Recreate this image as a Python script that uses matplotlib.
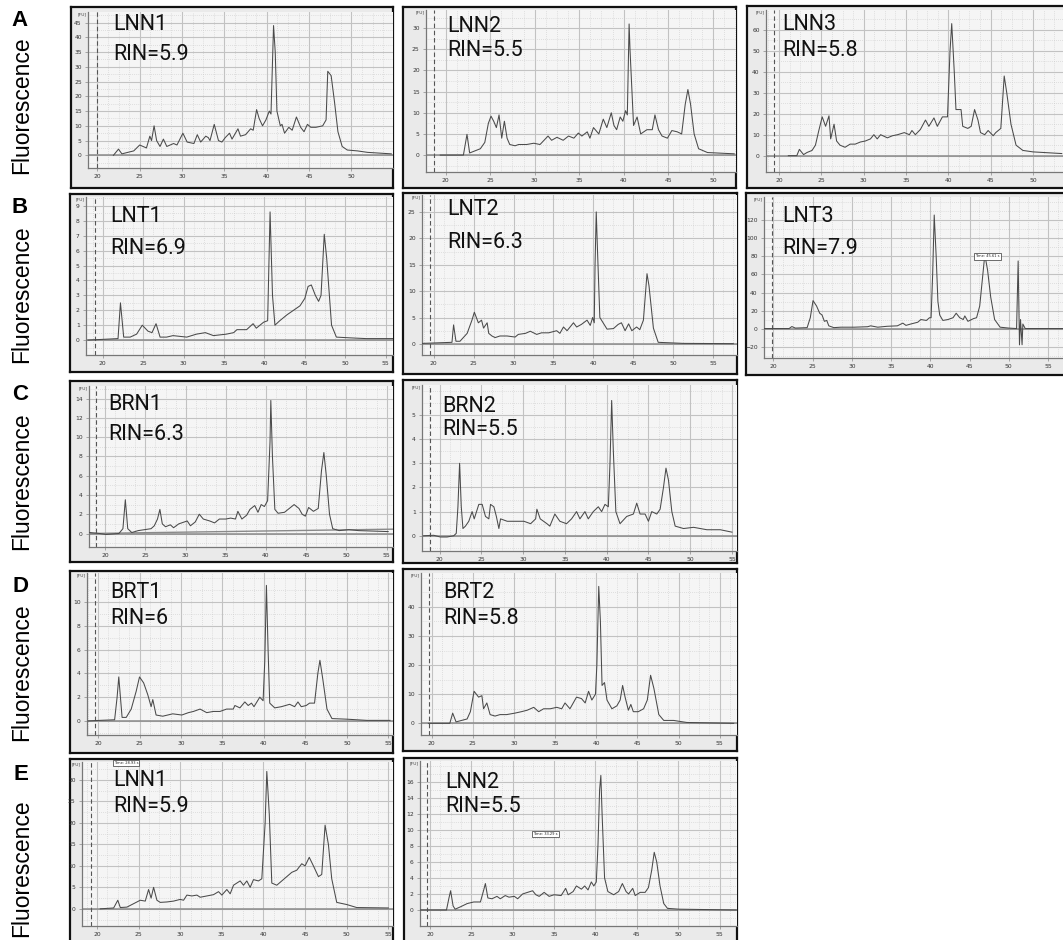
import matplotlib
matplotlib.use("Agg")
import matplotlib.pyplot as plt
from matplotlib.ticker import MultipleLocator, AutoMinorLocator

W, H = 1063, 940

# ---------------- data (time [s], fluorescence [FU]) ----------------
a1_t = [21.9, 22.5, 22.9, 24.3, 25.0, 25.8, 26.2, 26.4, 26.7, 27.0, 27.4, 27.8, 28.2, 29.0, 29.4, 30.1, 30.6, 31.4, 31.8, 32.2, 32.8, 33.1, 33.3, 33.8, 34.3, 34.7, 35.1, 35.6, 35.9, 36.6, 36.9, 37.5, 38.1, 38.4, 38.8, 39.1, 39.5, 39.9, 40.3, 40.5, 40.8, 41.0, 41.2, 41.6, 41.8, 42.1, 42.6, 43.0, 43.5, 44.0, 44.4, 44.8, 45.2, 45.8, 46.6, 47.0, 47.2, 47.6, 48.0, 48.4, 48.9, 49.5, 50.7, 51.9, 54.7]
a1_fu = [0, 2.1, 0.5, 1.5, 3.5, 2.5, 6.5, 5, 10, 5, 3, 5.5, 3, 4, 3.5, 7.5, 4.5, 4, 7, 4.5, 6.5, 6, 5, 10.5, 5, 4.5, 6, 7.5, 5.5, 9, 6.5, 7, 9, 8.5, 15.5, 12.5, 10, 12, 15, 14, 44, 35, 15, 10, 10.5, 7.5, 9.5, 8.5, 13, 9.5, 8, 10.5, 9.5, 9.5, 10, 12, 28.5, 27, 18, 8, 3, 1.8, 1.5, 1.0, 0.5]

a2_t = [19.4, 22.0, 22.4, 22.7, 23.9, 24.4, 24.8, 25.1, 25.4, 25.7, 26.0, 26.3, 26.6, 26.9, 27.2, 27.8, 28.2, 29.1, 29.9, 30.6, 31.5, 31.9, 32.5, 33.2, 33.8, 34.4, 34.9, 35.3, 35.9, 36.2, 36.6, 37.2, 37.7, 38.1, 38.6, 38.9, 39.2, 39.6, 39.9, 40.2, 40.4, 40.6, 40.7, 41.1, 41.5, 41.9, 42.6, 43.2, 43.5, 43.9, 44.3, 44.9, 45.4, 46.0, 46.5, 46.9, 47.2, 47.5, 47.9, 48.4, 49.4, 52.4]
a2_fu = [0, 0, 4.9, 0.5, 1.5, 3, 7.5, 9.2, 8, 6.5, 9.5, 4, 8, 4, 2.5, 2.2, 2.5, 2.5, 2.8, 2.5, 4.5, 3.5, 4.2, 3.5, 4.5, 4, 5.2, 4.5, 5.5, 4, 6.5, 5, 8.5, 6.5, 10, 7, 6, 9, 8, 10.5, 9.5, 31, 25, 7, 9, 5, 6, 6, 9.5, 6, 4.5, 4, 5.8, 5.5, 5, 12, 15.5, 12, 5, 1.5, 0.6, 0.3]

a3_t = [21.1, 22.1, 22.4, 22.9, 23.3, 23.9, 24.3, 24.7, 25.1, 25.5, 25.9, 26.1, 26.5, 26.8, 27.2, 27.8, 28.4, 29.0, 29.6, 30.2, 30.8, 31.2, 31.6, 32.0, 32.8, 33.4, 34.0, 34.8, 35.4, 35.7, 36.1, 36.7, 37.3, 37.7, 38.3, 38.7, 39.3, 39.9, 40.2, 40.4, 40.7, 40.9, 41.5, 41.7, 42.3, 42.7, 43.1, 43.5, 43.8, 44.3, 44.7, 45.3, 45.6, 46.2, 46.6, 46.9, 47.4, 48.0, 48.8, 50.0, 53.4]
a3_fu = [0, 0, 3, 0.5, 1.5, 2.5, 5, 12, 18.5, 14, 19, 8, 15, 7, 5, 4, 5.5, 5.5, 6.5, 7, 8, 10, 8, 10, 8.5, 9.5, 10, 11, 10, 12, 10, 12.5, 17, 14, 18, 14, 18.5, 18.5, 50, 63, 40, 22, 22, 14, 13, 14, 22, 17, 11, 10, 12, 9.5, 11, 13, 38, 30, 15, 5, 2.5, 1.8, 1.0]

b1_t = [18.2, 21.9, 22.2, 22.6, 23.4, 24.2, 24.9, 25.6, 26.1, 26.6, 27.1, 27.9, 28.7, 30.4, 31.6, 32.7, 33.7, 35.3, 36.2, 36.6, 37.8, 38.6, 39.0, 39.9, 40.4, 40.7, 41.0, 41.3, 41.9, 42.8, 43.6, 44.4, 45.0, 45.4, 45.8, 46.3, 46.7, 47.0, 47.4, 47.7, 48.3, 48.9, 50.6, 52.6, 55.9]
b1_fu = [0, 0.1, 2.5, 0.2, 0.2, 0.4, 1.0, 0.6, 0.5, 1.1, 0.2, 0.2, 0.3, 0.2, 0.4, 0.5, 0.3, 0.4, 0.5, 0.7, 0.7, 1.1, 0.8, 1.2, 1.3, 8.6, 3, 1.0, 1.3, 1.7, 2.0, 2.3, 2.8, 3.6, 3.7, 3.0, 2.6, 3.0, 7.1, 5.5, 1.0, 0.2, 0.15, 0.1, 0.1]

b2_t = [18.6, 22.3, 22.5, 22.8, 23.3, 24.2, 24.8, 25.1, 25.6, 26.0, 26.25, 26.7, 26.9, 27.3, 27.7, 28.3, 29.2, 30.2, 30.6, 31.5, 32.1, 32.9, 33.5, 34.4, 35.4, 35.8, 36.25, 36.7, 37.5, 37.9, 38.5, 39.2, 39.6, 39.9, 40.1, 40.2, 40.35, 40.5, 40.8, 41.7, 42.5, 43.1, 43.5, 43.96, 44.4, 44.8, 45.4, 45.8, 46.25, 46.7, 46.95, 47.5, 48.1, 51.25, 57.5]
b2_fu = [0.1, 0.3, 3.6, 0.5, 0.5, 2, 4.5, 6, 4, 4.5, 3, 4, 2, 1.5, 1.2, 1.5, 1.5, 1.3, 1.8, 2, 2.4, 1.8, 2.1, 2.1, 2.5, 2.0, 3.2, 2.5, 4, 3.2, 3.7, 4.5, 3.5, 5, 4, 15, 25, 18, 5, 2.8, 2.9, 3.7, 4, 2.5, 3.8, 2.5, 3.2, 2.7, 4.5, 13.3, 11, 3, 0.3, 0.1, 0.05]

b3_t = [18.8, 22.0, 22.35, 22.8, 24.3, 24.7, 25.05, 25.5, 25.9, 26.2, 26.5, 26.8, 27.06, 27.7, 28.6, 30.3, 32.0, 32.4, 33.3, 34.5, 35.8, 36.5, 36.9, 37.5, 38.4, 38.8, 39.5, 39.9, 40.1, 40.3, 40.5, 40.75, 40.97, 41.2, 41.6, 42.25, 42.9, 43.3, 43.75, 44.2, 44.4, 44.8, 45.5, 45.9, 46.3, 46.7, 46.95, 47.3, 47.7, 48.2, 48.9, 50.0, 51.0, 51.2, 51.37, 51.5, 51.7, 51.8, 52.1, 57.2]
b3_fu = [0, 0, 2.2, 0.5, 1, 12, 31, 25, 17, 15, 8, 9, 3, 1, 1.5, 1.5, 2, 3, 1.5, 2.5, 3, 6, 3.5, 5, 7, 10, 9, 12, 12, 60, 126, 80, 30, 15, 9, 10, 12, 17, 12, 10, 14, 8, 11, 12, 25, 60, 82, 65, 35, 10, 1.5, 0.5, 0, 75, -18, 10, -18, 5, 0, 0]

c1_t = [18.06, 19.3, 20.1, 21.7, 22.2, 22.5, 22.8, 23.3, 24.1, 24.9, 25.7, 26.1, 26.5, 26.8, 27.1, 27.5, 28.1, 28.5, 29.15, 30.2, 30.6, 31.2, 31.7, 32.2, 33.0, 33.6, 34.2, 35.0, 35.6, 36.2, 36.5, 37.0, 37.6, 38.0, 38.6, 39.0, 39.4, 39.8, 40.2, 40.5, 40.6, 40.8, 41.1, 41.5, 42.3, 42.9, 43.5, 44.1, 44.5, 44.9, 45.3, 45.9, 46.5, 46.9, 47.2, 47.5, 47.9, 48.3, 49.1, 50.3, 51.5, 55.2]
c1_fu = [0.1, 0, -0.1, 0, 0.5, 3.5, 0.5, 0.1, 0.3, 0.4, 0.5, 0.8, 1.5, 2.5, 1.0, 0.7, 0.9, 0.6, 1.0, 1.3, 0.8, 1.2, 2.0, 1.5, 1.3, 1.1, 1.5, 1.5, 1.6, 1.5, 2.3, 1.5, 1.9, 2.5, 2.9, 2.2, 3.0, 2.8, 3.4, 9.5, 13.8, 8, 2.5, 2.1, 2.2, 2.6, 3.0, 2.6, 2.0, 1.8, 2.7, 2.3, 2.6, 6.5, 8.4, 6, 2.0, 0.5, 0.3, 0.4, 0.3, 0.2]
c1_base_t = [18.0, 55.8]
c1_base_fu = [0.0, 0.45]

c2_t = [18.1, 19.3, 20.1, 20.9, 21.7, 22.0, 22.2, 22.4, 22.6, 22.8, 23.1, 23.5, 23.9, 24.15, 24.7, 25.1, 25.5, 25.9, 26.1, 26.5, 26.8, 27.1, 27.3, 28.1, 28.9, 30.1, 30.9, 31.5, 31.65, 32.05, 32.85, 33.2, 33.8, 34.4, 35.2, 35.8, 36.4, 36.8, 37.4, 37.8, 38.4, 39.0, 39.4, 39.8, 40.2, 40.4, 40.6, 40.8, 41.1, 41.6, 42.4, 43.2, 43.6, 44.0, 44.6, 45.0, 45.4, 46.0, 46.4, 46.8, 47.1, 47.4, 47.8, 48.2, 49.2, 50.4, 52.0, 53.6, 55.0]
c2_fu = [0, 0.02, -0.05, -0.05, 0, 0.1, 1.2, 3.0, 1.2, 0.3, 0.4, 0.6, 1.0, 0.7, 1.3, 1.3, 0.8, 0.7, 1.3, 1.2, 0.8, 0.3, 0.7, 0.6, 0.6, 0.6, 0.5, 0.7, 1.1, 0.7, 0.5, 0.4, 0.9, 0.6, 0.5, 0.7, 1.0, 0.7, 1.0, 0.7, 1.0, 1.2, 1.0, 1.3, 1.2, 3, 5.6, 3.5, 1.0, 0.5, 0.8, 0.9, 1.35, 0.9, 0.9, 0.6, 1.0, 0.9, 1.1, 2.0, 2.8, 2.3, 1.0, 0.4, 0.3, 0.35, 0.25, 0.25, 0.15]

d1_t = [18.8, 20.2, 22.0, 22.3, 22.5, 22.7, 22.9, 23.4, 24.0, 24.6, 25.0, 25.5, 26.0, 26.4, 26.6, 27.0, 27.8, 29.0, 30.1, 30.9, 31.5, 32.3, 33.1, 33.9, 34.7, 35.5, 36.3, 36.5, 37.1, 37.7, 38.1, 38.5, 38.8, 39.5, 39.9, 40.1, 40.3, 40.5, 40.7, 41.3, 42.1, 43.1, 43.7, 44.1, 44.5, 45.1, 45.5, 46.1, 46.5, 46.75, 47.1, 47.6, 48.2, 50.0, 52.4, 55.2]
d1_fu = [0, 0.05, 0.1, 2, 3.7, 2, 0.3, 0.3, 1.0, 2.5, 3.7, 3.2, 2.2, 1.2, 1.8, 0.5, 0.4, 0.6, 0.5, 0.7, 0.8, 1.0, 0.7, 0.8, 0.8, 1.0, 1.0, 1.3, 1.1, 1.6, 1.3, 1.5, 1.2, 2.0, 1.7, 5, 11.4, 6, 1.5, 1.1, 1.2, 1.4, 1.2, 1.6, 1.2, 1.3, 1.5, 1.5, 4.0, 5.1, 3.5, 1.0, 0.2, 0.15, 0.05, 0.05]

d2_t = [19.6, 22.2, 22.55, 22.96, 24.3, 24.7, 25.15, 25.7, 26.1, 26.3, 26.7, 27.1, 27.7, 28.3, 29.1, 30.1, 30.9, 31.6, 32.4, 33.0, 33.6, 34.4, 35.2, 35.8, 36.2, 36.8, 37.6, 38.2, 38.65, 39.06, 39.46, 39.9, 40.07, 40.3, 40.5, 40.7, 41.0, 41.3, 41.9, 42.5, 42.9, 43.2, 43.5, 43.9, 44.2, 44.5, 45.1, 45.75, 46.2, 46.6, 47.0, 47.6, 48.2, 49.4, 51.0, 56.7]
d2_fu = [0, 0, 3.5, 0.5, 1.5, 4, 11, 9, 9.5, 5, 7, 3, 2.5, 3, 3, 3.5, 4, 4.5, 5.5, 4, 5, 5, 5.5, 5, 7, 5, 9, 8.5, 7, 11, 8, 10, 20, 47, 35, 13, 14, 8, 5, 6, 8, 13, 9, 4.5, 6.5, 4, 4, 5, 8, 16.5, 12, 3, 1, 1.0, 0.3, 0]

e1_t = [20.4, 22.0, 22.5, 22.8, 23.6, 24.4, 25.2, 25.8, 26.2, 26.5, 26.8, 27.2, 27.6, 28.4, 29.2, 30.0, 30.4, 30.8, 31.4, 32.0, 32.4, 33.2, 34.0, 34.6, 35.0, 35.6, 36.0, 36.4, 37.2, 37.6, 38.0, 38.4, 38.8, 39.4, 39.8, 40.2, 40.4, 40.7, 41.0, 41.6, 42.2, 42.8, 43.4, 44.0, 44.6, 45.0, 45.5, 46.0, 46.6, 47.0, 47.4, 47.8, 48.2, 48.8, 50.0, 51.2, 55.0]
e1_fu = [0, 0.2, 2.0, 0.3, 0.4, 1.2, 2.0, 1.8, 4.5, 2.5, 5, 2, 1.5, 1.6, 1.8, 2.2, 2.0, 3.2, 3.0, 3.2, 2.7, 3.0, 3.3, 4, 3.2, 4.5, 3.5, 5.5, 6.5, 5.5, 6.5, 5, 6.8, 6.5, 7, 20, 32, 22, 6, 5.5, 6.5, 7.5, 8.5, 9, 10.5, 10, 12, 10, 7.5, 8, 19.5, 15, 7, 1.5, 1.0, 0.3, 0.2]

e2_t = [17.2, 20.4, 22.0, 22.3, 22.5, 22.8, 23.05, 23.7, 24.5, 25.3, 26.1, 26.5, 26.7, 27.0, 27.5, 28.1, 28.5, 29.1, 29.55, 30.2, 30.6, 31.2, 31.8, 32.4, 32.8, 33.2, 33.8, 34.4, 35.0, 35.85, 36.4, 36.7, 37.3, 37.7, 38.3, 38.7, 39.1, 39.5, 39.8, 40.1, 40.3, 40.5, 40.65, 40.8, 41.1, 41.5, 42.2, 42.8, 43.25, 43.7, 44.0, 44.5, 44.8, 45.4, 46.0, 46.4, 46.8, 47.1, 47.4, 47.8, 48.25, 48.7, 50.1, 57.0]
e2_fu = [0, 0, 0, 1.5, 2.4, 0.5, 0.1, 0.4, 0.8, 1.0, 1.0, 2.5, 3.3, 1.5, 1.4, 1.7, 1.4, 1.8, 1.6, 1.7, 1.4, 2.0, 2.2, 2.4, 1.9, 1.7, 2.2, 1.7, 1.9, 1.8, 2.7, 1.9, 2.3, 3.0, 2.6, 3.0, 2.5, 3.5, 3.0, 3.5, 8, 15, 16.8, 12, 4, 2.3, 1.9, 2.3, 3.3, 2.3, 2.0, 2.7, 1.8, 2.2, 2.2, 2.8, 5, 7.2, 6, 3, 0.8, 0.2, 0.1, 0]

sample_names = ["LNN1", "LNN2", "LNN3", "LNT1", "LNT2", "LNT3", "BRN1", "BRN2", "BRT1", "BRT2", "LNN1", "LNN2"]
rin_labels = ["RIN=5.9", "RIN=5.5", "RIN=5.8", "RIN=6.9", "RIN=6.3", "RIN=7.9", "RIN=6.3", "RIN=5.5", "RIN=6", "RIN=5.8", "RIN=5.9", "RIN=5.5"]
row_letters = ["A", "B", "C", "D", "E"]
y_axis_label = "Fluorescence"
time_notes = ["Time: 45.61 s", "Time: 28.93 s", "Time: 33.29 s"]

traces = [(a1_t, a1_fu), (a2_t, a2_fu), (a3_t, a3_fu),
          (b1_t, b1_fu), (b2_t, b2_fu), (b3_t, b3_fu),
          (c1_t, c1_fu), (c2_t, c2_fu),
          (d1_t, d1_fu), (d2_t, d2_fu),
          (e1_t, e1_fu), (e2_t, e2_fu)]

# ---------------- layout (pixels) ----------------
layout = [
    dict(outer=(71, 7, 393, 188), inner=(88, 12, 393, 168), xlim=(18.9, 54.9), ylim=(-4.3, 48.6), ystep=5, ymin=0, ymax=45, dash=20.0, txt=(113, 25, 55)),
    dict(outer=(403, 7, 736, 188), inner=(426, 10, 736, 172), xlim=(17.8, 52.6), ylim=(-4.0, 34.3), ystep=5, ymin=0, ymax=30, dash=18.7, txt=(447, 26, 51)),
    dict(outer=(747, 6, 1066, 188), inner=(766, 10, 1066, 172), xlim=(18.46, 53.9), ylim=(-7.8, 69.5), ystep=10, ymin=0, ymax=60, dash=19.4, txt=(782, 24, 50)),
    dict(outer=(70, 194, 393, 372), inner=(86, 197, 393, 355), xlim=(17.94, 55.9), ylim=(-1.0, 9.6), ystep=1, ymin=0, ymax=9, dash=19.05, txt=(110, 217, 249)),
    dict(outer=(403, 193, 737, 374), inner=(422, 195, 737, 355), xlim=(18.55, 57.96), ylim=(-2.1, 28.2), ystep=5, ymin=0, ymax=25, dash=19.5, txt=(447, 210, 242)),
    dict(outer=(746, 193, 1066, 375), inner=(764, 197, 1066, 358), xlim=(18.8, 57.3), ylim=(-32.7, 146), ystep=20, ymin=-20, ymax=120, dash=19.8, txt=(782, 217, 249)),
    dict(outer=(70, 381, 393, 562), inner=(89, 386, 393, 547), xlim=(17.98, 55.8), ylim=(-1.4, 15.3), ystep=2, ymin=0, ymax=14, dash=18.87, txt=(108, 405, 435)),
    dict(outer=(403, 380, 737, 563), inner=(422, 385, 737, 551), xlim=(17.9, 55.6), ylim=(-0.63, 6.24), ystep=1, ymin=0, ymax=5, dash=18.9, txt=(442, 406, 430)),
    dict(outer=(70, 571, 393, 753), inner=(87, 573, 393, 735), xlim=(18.67, 55.56), ylim=(-1.18, 12.44), ystep=2, ymin=0, ymax=10, dash=19.6, txt=(110, 593, 619)),
    dict(outer=(403, 569, 737, 751), inner=(421, 573, 737, 735), xlim=(18.7, 57.1), ylim=(-4.0, 51.6), ystep=10, ymin=0, ymax=40, dash=19.7, txt=(443, 593, 619)),
    dict(outer=(70, 759, 393, 948), inner=(82, 762, 393, 926), xlim=(18.2, 55.56), ylim=(-4.0, 34.2), ystep=5, ymin=0, ymax=30, dash=19.28, txt=(113, 781, 806)),
    dict(outer=(404, 758, 737, 948), inner=(420, 761, 737, 926), xlim=(18.8, 57.1), ylim=(-2.0, 18.6), ystep=2, ymin=0, ymax=16, dash=19.6, txt=(445, 782, 806)),
]
# (panel index, time, FU) of the cursor boxes
note_pos = [(5, 47.3, 80), (10, 23.5, 34.0), (11, 34.0, 9.5)]

letter_pos = [(20, 21), (20, 207), (20, 394), (20, 587), (21, 774)]
fluor_pos = [(22, 105), (22, 294), (22, 481), (22, 672), (22, 868)]


def rect(l, t, r, b):
    return [l / W, 1 - b / H, (r - l) / W, (b - t) / H]


fig = plt.figure(figsize=(W / 100, H / 100), dpi=100)
fig.patch.set_facecolor("white")

axes = []
for i, (lay, (tt, ff)) in enumerate(zip(layout, traces)):
    fo = fig.add_axes(rect(*lay["outer"]))
    fo.set_facecolor("#eaeaea")
    fo.set_xticks([])
    fo.set_yticks([])
    for s in fo.spines.values():
        s.set_color("#111111")
        s.set_linewidth(1.6)

    ax = fig.add_axes(rect(*lay["inner"]))
    axes.append(ax)
    ax.set_facecolor("#f5f5f5")
    ax.set_xlim(*lay["xlim"])
    ax.set_ylim(*lay["ylim"])
    ax.xaxis.set_major_locator(MultipleLocator(5))
    ax.xaxis.set_minor_locator(AutoMinorLocator(4))
    yt = []
    v = lay["ymin"]
    while v <= lay["ymax"] + 1e-9:
        yt.append(v)
        v += lay["ystep"]
    ax.set_yticks(yt)
    ax.yaxis.set_minor_locator(AutoMinorLocator(2))
    ax.grid(which="major", color="#c2c2c2", lw=0.8, ls="-")
    ax.grid(which="minor", color="#c8c8c8", lw=0.5, ls=(0, (1, 2)))
    ax.set_axisbelow(True)
    ax.tick_params(which="both", labelsize=4.3, labelcolor="#333333", color="#888888",
                   length=2, width=0.5, pad=2.5)
    ax.tick_params(which="minor", length=0)
    for name in ("top", "right"):
        ax.spines[name].set_visible(False)
    for name in ("left", "bottom"):
        ax.spines[name].set_color("#777777")
        ax.spines[name].set_linewidth(0.9)

    ax.axhline(0, color="#8a8a8a", lw=1.1, zorder=2)
    ax.axvline(lay["dash"], color="#555555", lw=0.8, ls=(0, (4, 2.5)), zorder=2)
    ax.plot(tt, ff, color="#4a4a4a", lw=0.75, zorder=3)
    ax.text(-0.005, 1.0, "[FU]", transform=ax.transAxes, ha="right", va="top",
            fontsize=3.2, color="#444444")

    x0, y1, y2 = lay["txt"]
    fig.text(x0 / W, 1 - y1 / H, sample_names[i], fontsize=15.5, family=["Roboto", "DejaVu Sans"],
             ha="left", va="center", color="#111111")
    fig.text(x0 / W, 1 - y2 / H, rin_labels[i], fontsize=15.5, family=["Roboto", "DejaVu Sans"],
             ha="left", va="center", color="#111111")

# baseline fit in BRN1
axes[6].plot(c1_base_t, c1_base_fu, color="#8a8a8a", lw=1.0, zorder=2)

for (pi, tx, fy), note in zip(note_pos, time_notes):
    axes[pi].text(tx, fy, note, fontsize=2.6, ha="center", va="center", color="#222222", zorder=4,
                  bbox=dict(boxstyle="square,pad=0.3", fc="white", ec="#333333", lw=0.5))

for letter, (x, y) in zip(row_letters, letter_pos):
    fig.text(x / W, 1 - y / H, letter, fontsize=16, fontweight="bold",
             family=["Liberation Sans", "DejaVu Sans"], ha="center", va="center")
for (x, y) in fluor_pos:
    fig.text(x / W, 1 - y / H, y_axis_label, fontsize=16.5, rotation=90,
             family=["Liberation Sans", "DejaVu Sans"], ha="center", va="center")

fig.savefig("out.png", dpi=100)
